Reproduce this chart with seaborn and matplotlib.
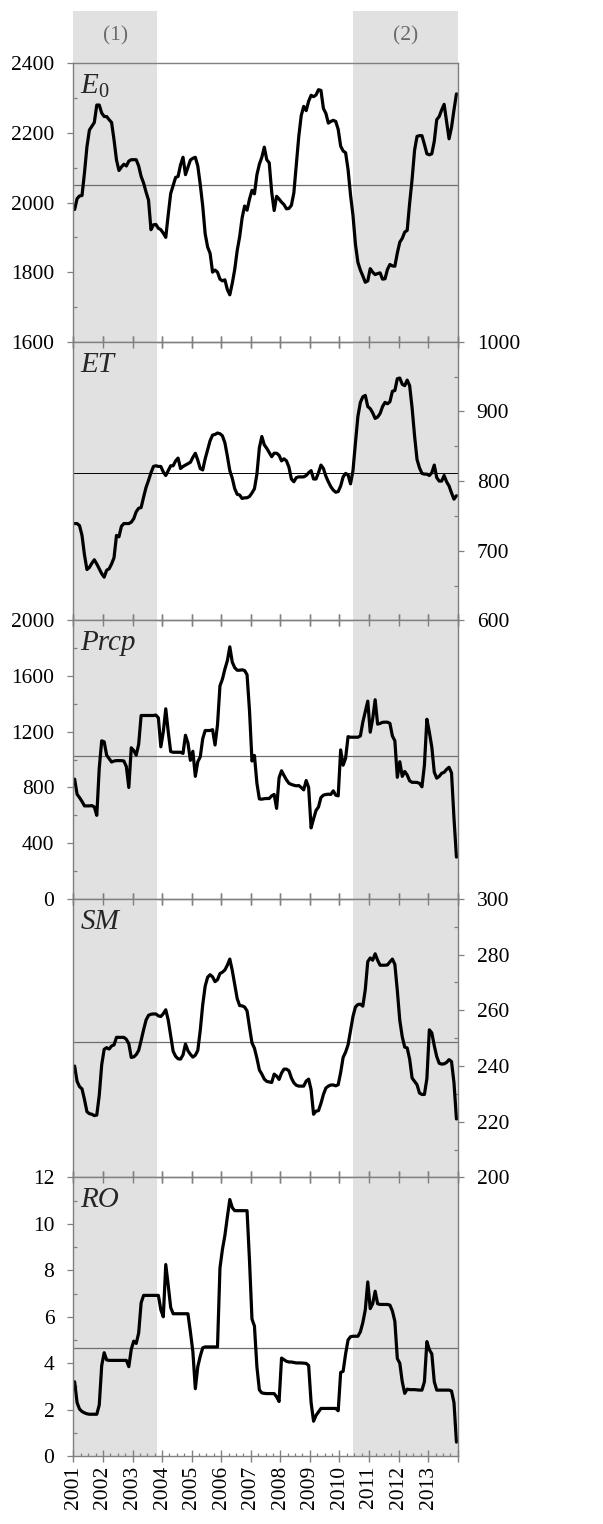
import numpy as np
import pandas as pd
import matplotlib
matplotlib.use("Agg")
import matplotlib.pyplot as plt
from matplotlib.ticker import FixedLocator, FixedFormatter, MultipleLocator
from matplotlib.patches import Rectangle
import seaborn as sns

# ---------------- data (monthly, Jan 2001 - Dec 2013) ----------------
E0 = [1980, 2011, 2019, 2020, 2085, 2160, 2208, 2219, 2230, 2280, 2280, 2257,
      2247, 2247, 2238, 2230, 2180, 2122, 2092, 2102, 2110, 2105, 2119, 2123,
      2123, 2123, 2105, 2075, 2056, 2030, 2007, 1922, 1936, 1937, 1926, 1922,
      1912, 1900, 1965, 2026, 2049, 2072, 2075, 2108, 2130, 2080, 2101, 2122,
      2127, 2130, 2105, 2052, 1990, 1910, 1872, 1854, 1800, 1806, 1800, 1780,
      1775, 1778, 1750, 1735, 1768, 1808, 1862, 1902, 1956, 1990, 1978, 2010,
      2035, 2025, 2080, 2110, 2130, 2159, 2123, 2114, 2030, 1977, 2018, 2010,
      2001, 1994, 1982, 1983, 1992, 2028, 2110, 2190, 2250, 2276, 2264, 2291,
      2308, 2304, 2309, 2324, 2322, 2270, 2256, 2228, 2233, 2236, 2233, 2210,
      2162, 2148, 2143, 2095, 2022, 1963, 1880, 1828, 1806, 1789, 1771, 1775,
      1810, 1800, 1793, 1796, 1798, 1780, 1781, 1808, 1822, 1818, 1817, 1855,
      1886, 1897, 1915, 1920, 1998, 2067, 2150, 2190, 2192, 2192, 2167, 2140,
      2137, 2140, 2176, 2238, 2247, 2266, 2282, 2232, 2183, 2216, 2266, 2312]

ET = [739, 739, 736, 722, 694, 673, 676, 682, 687, 681, 674, 667,
      662, 672, 674, 681, 690, 722, 720, 735, 739, 739, 739, 741,
      746, 756, 761, 762, 777, 791, 801, 812, 821, 822, 821, 821,
      813, 808, 815, 822, 822, 829, 833, 818, 821, 823, 825, 827,
      834, 840, 830, 818, 816, 832, 845, 858, 866, 867, 869, 868,
      865, 855, 836, 815, 804, 789, 781, 780, 775, 776, 776, 778,
      783, 789, 810, 848, 864, 852, 847, 841, 835, 840, 840, 837,
      829, 832, 829, 820, 803, 799, 805, 806, 806, 806, 808, 812,
      815, 803, 803, 812, 823, 818, 807, 799, 792, 787, 784, 785,
      793, 806, 811, 809, 796, 815, 855, 893, 913, 921, 923, 907,
      904, 898, 890, 892, 897, 907, 913, 911, 914, 929, 930, 947,
      948, 939, 937, 945, 937, 905, 865, 831, 819, 811, 810, 810,
      808, 812, 823, 805, 800, 800, 808, 799, 793, 783, 774, 779]

Prcp = [860, 752, 727, 700, 668, 668, 668, 670, 660, 600, 940, 1135,
        1128, 1032, 1008, 983, 990, 993, 993, 993, 990, 950, 800, 1085,
        1065, 1032, 1110, 1317, 1317, 1317, 1317, 1317, 1317, 1320, 1300, 1092,
        1200, 1365, 1200, 1058, 1053, 1053, 1053, 1053, 1045, 1175, 1120, 995,
        1060, 880, 985, 1020, 1150, 1209, 1209, 1209, 1215, 1105, 1250, 1530,
        1578, 1650, 1710, 1810, 1700, 1660, 1642, 1642, 1645, 1640, 1610, 1350,
        990, 1030, 830, 718, 716, 720, 721, 721, 740, 750, 650, 870,
        920, 886, 855, 830, 822, 816, 812, 814, 800, 783, 850, 800,
        510, 575, 635, 660, 728, 745, 750, 752, 750, 776, 745, 740,
        1070, 960, 1010, 1165, 1161, 1161, 1161, 1161, 1170, 1270, 1345, 1420,
        1197, 1293, 1430, 1255, 1260, 1268, 1269, 1269, 1260, 1170, 1135, 873,
        985, 880, 915, 890, 848, 837, 837, 836, 830, 805, 960, 1290,
        1197, 1090, 910, 867, 880, 902, 909, 930, 945, 905, 580, 300]

SM = [240.0, 234.5, 232.6, 231.8, 228.0, 223.6, 222.9, 222.7, 222.2, 222.4, 229.5, 240.5,
      246.0, 246.6, 246.1, 247.2, 247.6, 250.3, 250.3, 250.3, 250.3, 249.6, 248.0, 243.1,
      243.3, 244.1, 245.6, 249.2, 253.0, 256.5, 258.2, 258.6, 258.7, 258.7, 258.0, 257.8,
      258.8, 260.2, 256.5, 251.0, 245.3, 243.5, 242.6, 242.5, 244.0, 247.9, 245.5, 244.2,
      243.2, 243.9, 245.6, 252.8, 262.0, 268.7, 271.9, 272.8, 272.0, 270.3, 271.0, 273.2,
      273.7, 274.5, 276.2, 278.4, 274.3, 269.2, 264.2, 261.7, 261.6, 261.2, 259.8, 253.9,
      248.3, 246.4, 242.8, 238.6, 237.1, 235.3, 234.5, 234.3, 234.1, 237.1, 236.4, 235.2,
      237.5, 238.9, 238.9, 238.3, 235.7, 234.0, 233.1, 232.8, 232.8, 232.8, 234.6, 235.3,
      231.5, 222.7, 223.8, 224.0, 226.6, 229.8, 232.1, 232.8, 233.2, 233.2, 232.9, 233.3,
      237.7, 243.1, 245.0, 247.6, 252.6, 257.8, 261.2, 262.1, 262.2, 261.5, 267.5, 277.5,
      278.8, 278.0, 280.3, 278.0, 276.2, 276.2, 276.2, 276.3, 277.4, 278.4, 276.5, 267.1,
      256.4, 250.5, 246.8, 246.5, 242.5, 235.7, 234.5, 233.3, 230.3, 229.8, 229.8, 235.5,
      253.0, 251.9, 247.3, 243.4, 241.0, 240.7, 240.8, 241.3, 242.3, 241.6, 234.0, 221.0]

RO = [3.20, 2.30, 2.02, 1.92, 1.86, 1.82, 1.80, 1.80, 1.80, 1.80, 2.20, 3.90,
      4.45, 4.14, 4.12, 4.12, 4.12, 4.12, 4.12, 4.12, 4.12, 4.12, 3.85, 4.60,
      4.95, 4.85, 5.30, 6.60, 6.92, 6.92, 6.92, 6.92, 6.92, 6.92, 6.92, 6.30,
      6.00, 8.25, 7.35, 6.40, 6.13, 6.13, 6.13, 6.13, 6.13, 6.13, 6.13, 5.35,
      4.50, 2.90, 3.85, 4.30, 4.66, 4.70, 4.70, 4.70, 4.70, 4.70, 4.70, 8.10,
      8.90, 9.50, 10.30, 11.05, 10.70, 10.57, 10.57, 10.57, 10.57, 10.57, 10.57, 8.40,
      5.90, 5.60, 3.84, 2.85, 2.72, 2.70, 2.69, 2.69, 2.69, 2.69, 2.55, 2.35,
      4.22, 4.15, 4.08, 4.05, 4.05, 4.03, 4.01, 4.01, 4.01, 4.00, 3.99, 3.90,
      2.30, 1.50, 1.75, 1.90, 2.05, 2.05, 2.05, 2.05, 2.05, 2.05, 2.05, 1.95,
      3.60, 3.65, 4.40, 5.00, 5.14, 5.16, 5.16, 5.16, 5.35, 5.75, 6.30, 7.50,
      6.35, 6.56, 7.10, 6.56, 6.53, 6.53, 6.53, 6.53, 6.50, 6.25, 5.80, 4.20,
      4.00, 3.20, 2.70, 2.88, 2.86, 2.86, 2.86, 2.85, 2.84, 2.84, 3.20, 4.93,
      4.58, 4.40, 3.20, 2.84, 2.84, 2.84, 2.84, 2.84, 2.84, 2.80, 2.30, 0.60]

series_names = ["E0", "ET", "Prcp", "SM", "RO"]
series_labels = [r"$\mathit{E}_{0}$", "ET", "Prcp", "SM", "RO"]
series_means = [2050, 811, 1029, 248.5, 4.65]
y_limits = [(1600, 2400), (600, 1000), (0, 2000), (200, 300), (0, 12)]
y_major = [200, 100, 400, 20, 2]
y_side = ["left", "right", "left", "right", "left"]

periods = [(2001.0, 2003.84, "(1)"), (2010.47, 2014.0, "(2)")]
year_ticks = list(range(2001, 2015))
year_labels = [str(y) for y in range(2001, 2014)] + [""]

months = np.arange(len(E0))
df = pd.DataFrame({"year": 2001 + (months + 0.5) / 12,
                   "E0": E0, "ET": ET, "Prcp": Prcp, "SM": SM, "RO": RO})

# ---------------- style ----------------
sns.set_style("ticks")
plt.rcParams["font.family"] = ["Liberation Serif", "DejaVu Serif"]
plt.rcParams["mathtext.fontset"] = "custom"
plt.rcParams["mathtext.rm"] = "Liberation Serif"
plt.rcParams["mathtext.it"] = "Liberation Serif:italic"

SPINE = "#808080"
SHADE = "#e1e1e1"

fig, axes = plt.subplots(5, 1, figsize=(6.03, 15.24), dpi=100, sharex=True,
                         gridspec_kw=dict(hspace=0))
fig.subplots_adjust(left=0.1217, right=0.759, top=0.9585, bottom=0.0446)

for i, ax in enumerate(axes):
    name = series_names[i]
    for (a, b, _) in periods:
        ax.axvspan(a, b, color=SHADE, lw=0, zorder=0)
    ax.axhline(series_means[i], color="black" if name == "ET" else "#6e6e6e",
               lw=0.7 if name == "ET" else 0.9, zorder=1)
    sns.lineplot(data=df, x="year", y=name, ax=ax, color="black", lw=2.3,
                 zorder=3, legend=False)
    ax.set_xlabel("")
    ax.set_ylabel("")
    ax.set_xlim(2001, 2014)
    ax.set_ylim(*y_limits[i])
    ax.yaxis.set_major_locator(MultipleLocator(y_major[i]))
    ax.yaxis.set_minor_locator(MultipleLocator(y_major[i] / 2))
    for sp in ax.spines.values():
        sp.set_color(SPINE)
        sp.set_linewidth(1.0)
        sp.set_visible(True)
        sp.set_zorder(4)
    ax.set_facecolor("none")

    # y ticks
    if y_side[i] == "left":
        ax.tick_params(axis="y", which="both", left=True, right=False,
                       labelleft=True, labelright=False)
    else:
        ax.tick_params(axis="y", which="both", left=False, right=True,
                       labelleft=False, labelright=True)
    ax.tick_params(axis="y", which="major", direction="out", length=4.2,
                   width=0.9, color=SPINE, labelsize=15.5, pad=9.5,
                   labelcolor="black")
    ax.tick_params(axis="y", which="minor", direction="in", length=2.6,
                   width=0.9, color=SPINE)

    # x ticks (year ticks cross each panel boundary)
    ax.xaxis.set_major_locator(FixedLocator(year_ticks))
    ax.tick_params(axis="x", which="major", direction="inout", length=8.5,
                   width=1.0, color=SPINE, top=(i > 0), bottom=True,
                   labeltop=False)
    ax.tick_params(axis="x", which="minor", bottom=False, top=False)

    ax.text(0.018, 0.965, series_labels[i], transform=ax.transAxes,
            ha="left", va="top", fontsize=21, fontstyle="italic", zorder=5)

# bottom axis: labels + quarterly minor ticks
axb = axes[-1]
axb.xaxis.set_major_formatter(FixedFormatter(year_labels))
axb.xaxis.set_minor_locator(MultipleLocator(0.25))
axb.tick_params(axis="x", which="minor", bottom=True, direction="in",
                length=2.4, width=0.9, color=SPINE)
axb.tick_params(axis="x", which="major", labelbottom=True, labelsize=15.5,
                labelrotation=90, pad=3, labelcolor="black")

# shading extends above the top panel with period labels
axt = axes[0]
ext = 52.6 / (axt.get_position().height * 1524)
for (a, b, lab) in periods:
    axt.add_patch(Rectangle((a, 1.0), b - a, ext, transform=axt.get_xaxis_transform(),
                            facecolor=SHADE, lw=0, clip_on=False, zorder=0))
    axt.text((a + b) / 2, 1.0 + ext * 0.52, lab, transform=axt.get_xaxis_transform(),
             ha="center", va="center", fontsize=15.5, color="#6a6a6a")

fig.savefig("out.png", dpi=100)
